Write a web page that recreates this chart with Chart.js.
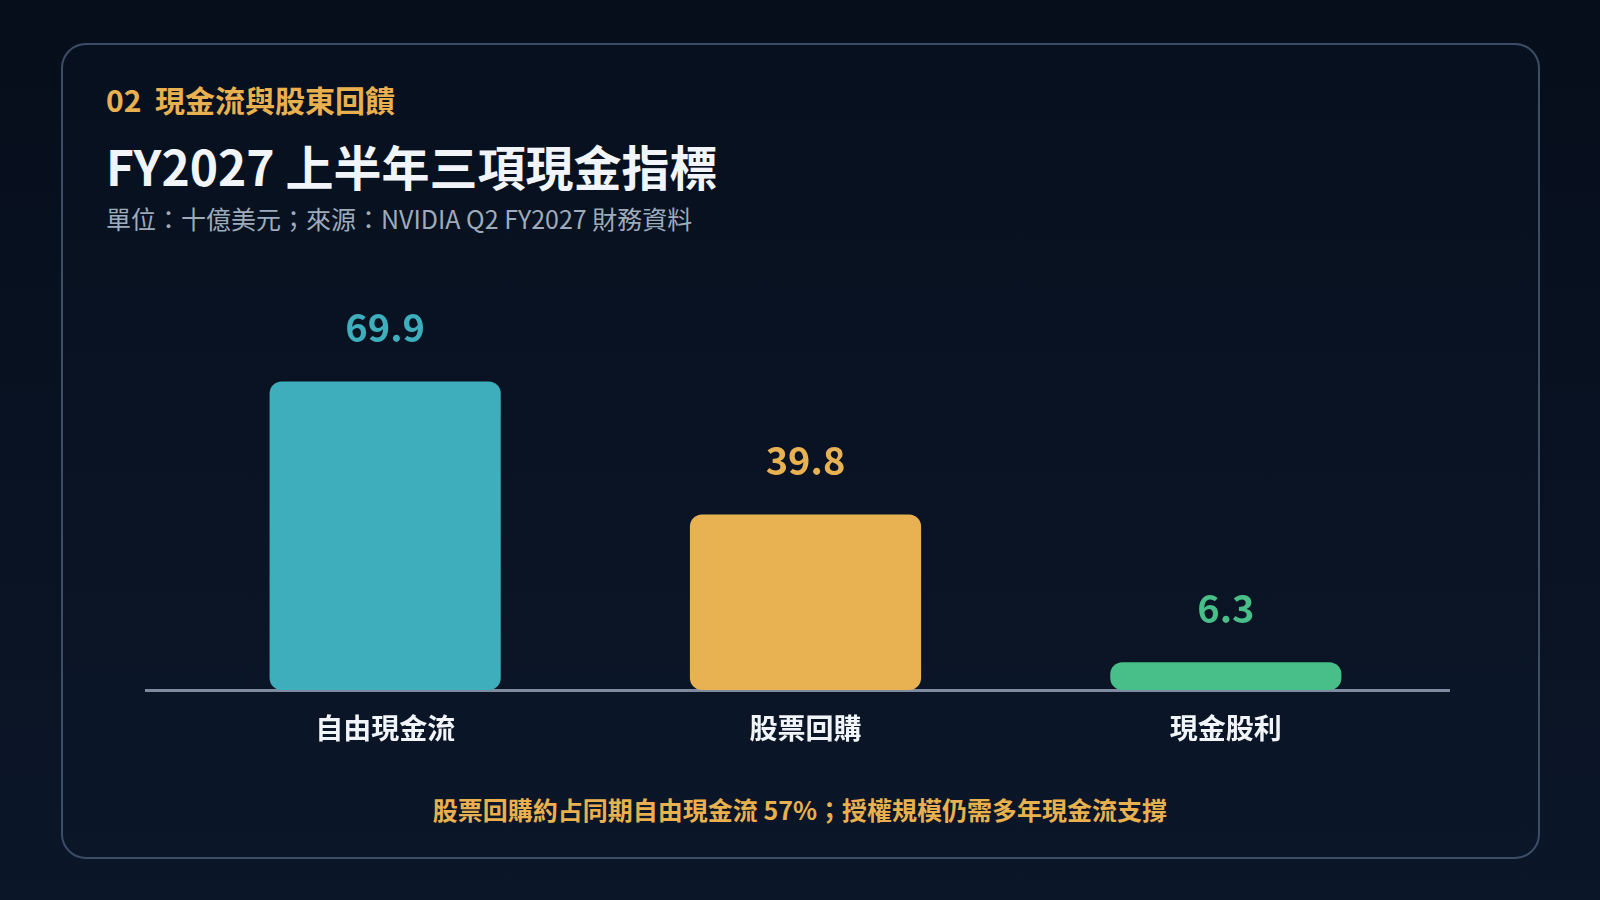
<!DOCTYPE html>
<html lang="zh-Hant">
<head>
<meta charset="utf-8">
<script src="https://cdn.jsdelivr.net/npm/chart.js@4.4.1/dist/chart.umd.min.js"></script>
<style>
  html, body { margin:0; padding:0; }
  body { width:1600px; height:900px; background:linear-gradient(180deg,#060e1b 0%,#0b1628 100%); position:relative; overflow:hidden;
         font-family:"Noto Sans CJK TC","Noto Sans CJK SC","Noto Sans",sans-serif; }
  .card { position:absolute; left:61px; top:43px; width:1479px; height:816px; box-sizing:border-box;
          border:2px solid #3c4d66; border-radius:25px;
          background:linear-gradient(180deg,#07101e 0%,#0b1628 100%); }
  .txt { position:absolute; white-space:nowrap; line-height:1; }
  #kicker { left:106px; top:84px; font-size:30px; font-weight:700; color:#e8b04f; }
  #title { left:106px; top:141px; font-size:48px; font-weight:700; color:#f1f5f9; }
  #sub { left:106px; top:206px; font-size:25px; font-weight:400; color:#9eabbb; }
  #foot { left:0; width:1600px; text-align:center; top:797px; font-size:25px; font-weight:700; color:#e8b04f; }
  #wrap { position:absolute; left:0; top:0; width:1600px; height:900px; }
</style>
</head>
<body>
<div class="card"></div>
<div class="txt" id="kicker">02&nbsp;&nbsp;現金流與股東回饋</div>
<div class="txt" id="title">FY2027 上半年三項現金指標</div>
<div class="txt" id="sub">單位：十億美元；來源：NVIDIA Q2 FY2027 財務資料</div>
<div class="txt" id="foot">股票回購約占同期自由現金流 57%；授權規模仍需多年現金流支撐</div>
<div id="wrap"><canvas id="c"></canvas></div>
<script>
const categories = ["自由現金流", "股票回購", "現金股利"];
const values = [69.9, 39.8, 6.3];
const barColors = ["#3eaebd", "#e8b152", "#48bf88"];
const yMax = 80;

const FONT = '"Noto Sans CJK TC","Noto Sans CJK SC","Noto Sans",sans-serif';

const baseline = {
  id: 'baseline',
  beforeDatasetsDraw(chart) {
    const ctx = chart.ctx;
    const y = chart.scales.y.getPixelForValue(0);
    ctx.save();
    ctx.strokeStyle = '#7d8aa0';
    ctx.lineWidth = 3;
    ctx.beginPath();
    ctx.moveTo(145, y + 0.5);
    ctx.lineTo(1450, y + 0.5);
    ctx.stroke();
    ctx.restore();
  }
};

const valueLabels = {
  id: 'valueLabels',
  afterDatasetsDraw(chart) {
    const ctx = chart.ctx;
    const meta = chart.getDatasetMeta(0);
    ctx.save();
    ctx.font = '700 38px ' + FONT;
    ctx.textAlign = 'center';
    ctx.textBaseline = 'middle';
    meta.data.forEach((bar, i) => {
      ctx.fillStyle = barColors[i];
      ctx.fillText(values[i].toFixed(1), bar.x, bar.y - 54);
    });
    ctx.restore();
  }
};

new Chart(document.getElementById('c'), {
  type: 'bar',
  data: {
    labels: categories,
    datasets: [{
      data: values,
      backgroundColor: barColors,
      borderRadius: 12,
      borderSkipped: false,
      categoryPercentage: 1,
      barPercentage: 0.55
    }]
  },
  options: {
    responsive: true,
    maintainAspectRatio: false,
    animation: false,
    devicePixelRatio: 1,
    layout: { padding: { left: 175, right: 164, top: 337, bottom: 150 } },
    plugins: { legend: { display: false }, tooltip: { enabled: false } },
    scales: {
      x: {
        grid: { display: false, drawTicks: false },
        border: { display: false },
        ticks: { color: '#f1f5f9', font: { family: FONT, size: 28, weight: '700' }, padding: 22 },
        afterFit: (s) => { s.height = 60; }
      },
      y: { display: false, min: 0, max: yMax }
    }
  },
  plugins: [baseline, valueLabels]
});
</script>
</body>
</html>
